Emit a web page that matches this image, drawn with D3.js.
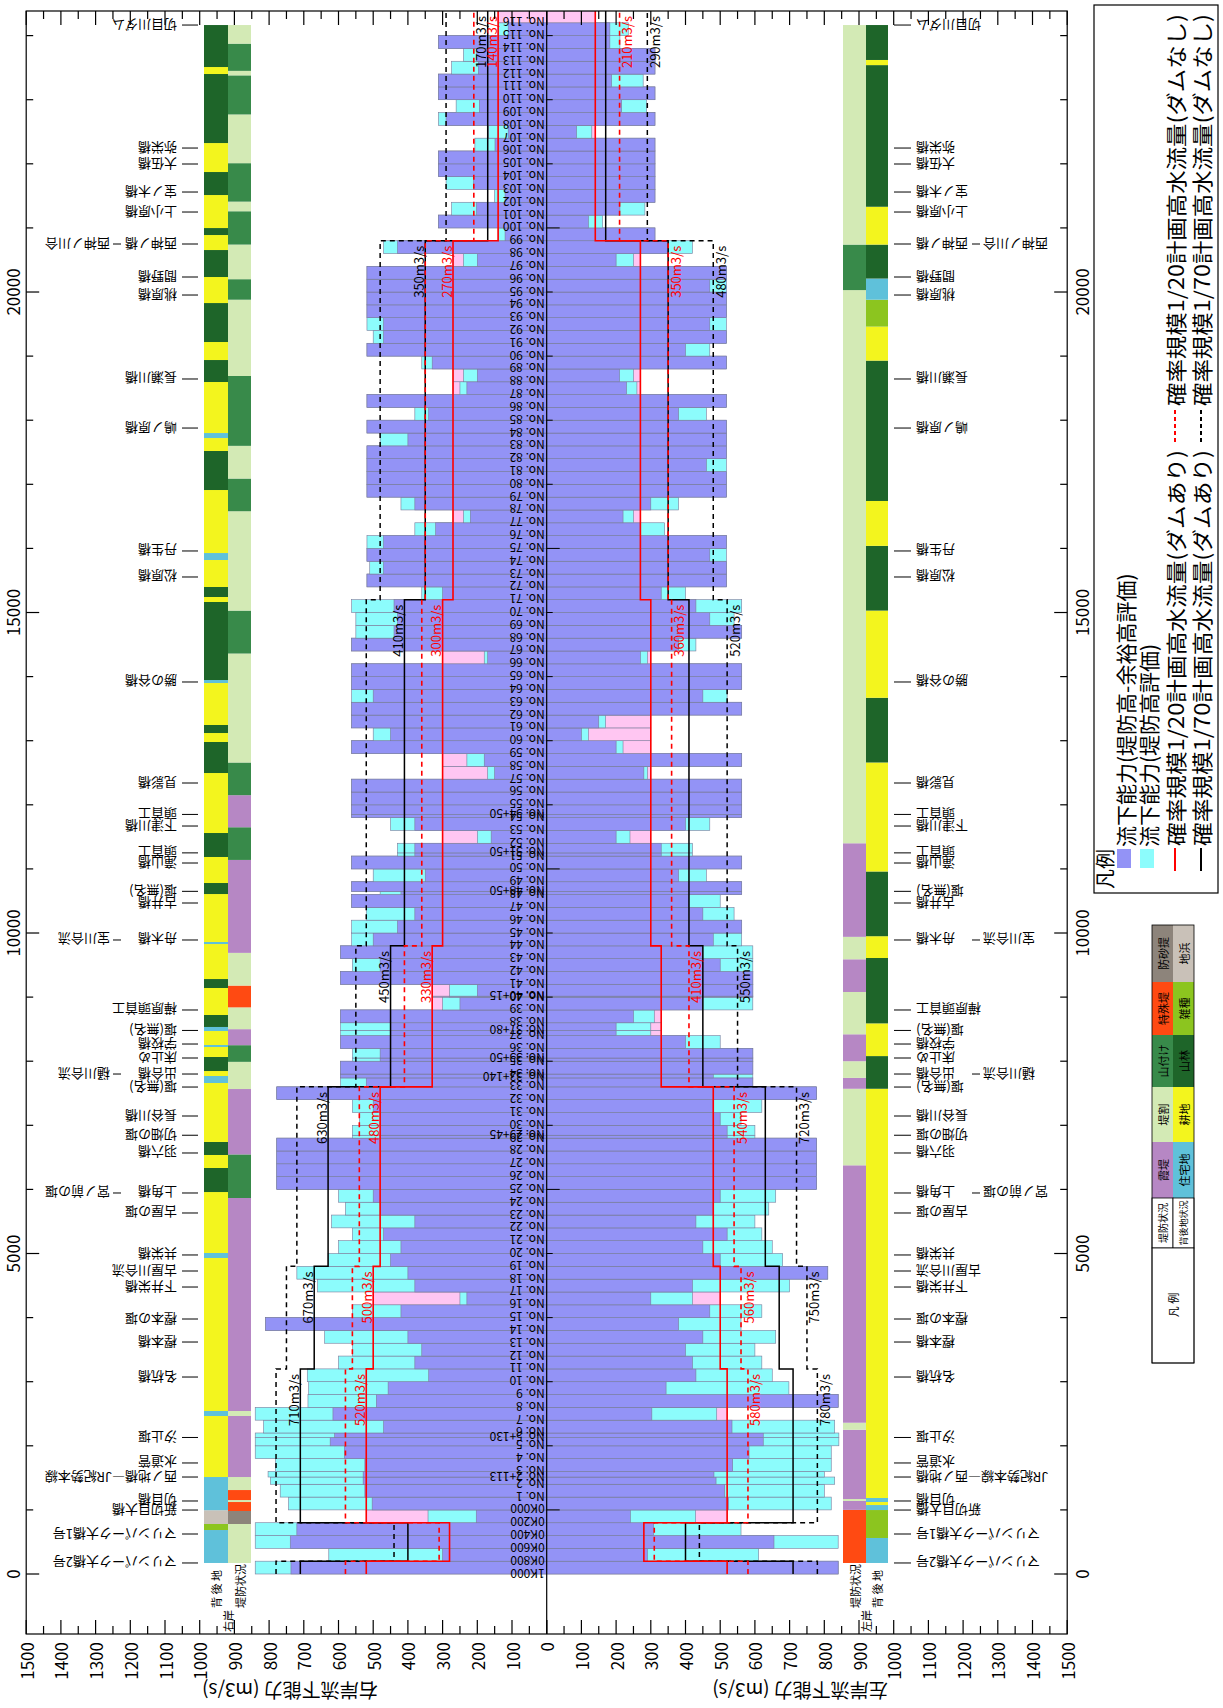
<!DOCTYPE html>
<html lang="ja"><head><meta charset="utf-8">
<script src="https://cdn.jsdelivr.net/npm/d3@7/dist/d3.min.js"></script>
<style>
html,body{margin:0;padding:0;background:#fff;}
svg text{font-family:"Noto Sans CJK JP","Noto Sans",sans-serif;fill:#000;}
</style></head><body>
<svg id="chart" width="1223" height="1708"></svg>
<script>
// ---------- cross sections (distance from the downstream end, m) ----------
const sectionLabels = ["1K000","0K800","0K600","0K400","0K200","0K000","No. 1","No. 2","No. 2+113","No. 3","No. 4","No. 5","No. 5+130","No. 6","No. 7","No. 8","No. 9",
 "No. 10","No. 11","No. 12","No. 13","No. 14","No. 15","No. 16","No. 17","No. 18","No. 19","No. 20","No. 21","No. 22","No. 23","No. 24","No. 25","No. 26","No. 27","No. 28","No. 29","No. 29+45",
 "No. 30","No. 31","No. 32","No. 33","No. 33+140","No. 34","No. 35","No. 35+50","No. 36","No. 37","No. 37+80","No. 38","No. 39","No. 40","No. 40+15","No. 41","No. 42","No. 43","No. 44",
 "No. 45","No. 46","No. 47","No. 48","No. 48+50","No. 49","No. 50","No. 51","No. 51+50","No. 52","No. 53","No. 54","No. 54+50","No. 55","No. 56","No. 57","No. 58","No. 59","No. 60",
 "No. 61","No. 62","No. 63","No. 64","No. 65","No. 66","No. 67","No. 68","No. 69","No. 70","No. 71","No. 72","No. 73","No. 74","No. 75","No. 76","No. 77","No. 78","No. 79","No. 80",
 "No. 81","No. 82","No. 83","No. 84","No. 85","No. 86","No. 87","No. 88","No. 89","No. 90","No. 91","No. 92","No. 93","No. 94","No. 95","No. 96","No. 97","No. 98","No. 99","No. 100",
 "No. 101","No. 102","No. 103","No. 104","No. 105","No. 106","No. 107","No. 108","No. 109","No. 110","No. 111","No. 112","No. 113","No. 114","No. 115","No. 116"];
const sectionDist = [0,200,400,600,800,1000,1200,1400,1513,1600,1800,2000,2130,2200,2400,2600,2800,
 3000,3200,3400,3600,3800,4000,4200,4400,4600,4800,5000,5200,5400,5600,5800,6000,6200,6400,6600,6800,6845,
 7000,7200,7400,7600,7740,7800,8000,8050,8200,8400,8480,8600,8800,9000,9015,9200,9400,9600,9800,
 10000,10200,10400,10600,10650,10800,11000,11200,11250,11400,11600,11800,11850,12000,12200,12400,12600,12800,13000,
 13200,13400,13600,13800,14000,14200,14400,14600,14800,15000,15200,15400,15600,15800,16000,16200,16400,16600,16800,17000,
 17200,17400,17600,17800,18000,18200,18400,18600,18800,19000,19200,19400,19600,19800,20000,20200,20400,20600,20800,21000,
 21200,21400,21600,21800,22000,22200,22400,22600,22800,23000,23200,23400,23600,23800,24000,24200];

// ---------- discharge capacity of each reach (m3/s) ----------
// right bank (drawn on the left half)
const rbFreeboard = [737,300,739,720,203,503,524,529,529,524,583,624,611,470,616,491,457,
 340,380,360,400,810,420,230,380,400,
 450,420,470,380,480,500,778,778,778,778,480,480,480,500,778,
 520,594,594,480,480,594,450,450,594,250,200,200,594,480,594,
 500,430,380,562,420,562,350,562,380,380,160,380,562,562,562,562,150,180,562,450,562,562,500,562,562,170,562,440,430,440,
 300,518,470,518,470,320,220,380,518,518,518,518,400,518,340,518,230,200,330,518,470,470,518,518,518,518,200,430,
 120,312,202,120,211,312,312,149,111,290,194,312,312,197,202,312,111,0];
const rbCrestCap = [840,628,840,840,342,744,768,796,803,782,840,840,840,816,840,688,686,
 690,600,560,640,810,560,250,660,720,
 630,600,560,620,580,600,778,778,778,778,560,560,540,560,778,
 594,594,594,560,560,594,594,594,594,300,280,280,594,560,594,
 562,562,520,562,480,562,500,562,430,430,200,450,562,562,562,562,170,230,562,500,562,562,562,562,562,180,562,550,550,562,
 360,518,510,518,518,380,240,420,518,518,518,518,480,518,380,518,250,240,360,518,500,518,518,518,518,518,240,470,
 139,312,274,150,290,312,312,207,168,312,261,312,312,274,240,312,139,0];
// left bank (drawn on the right half)
const lbFreeboard = [840,290,655,308,241,524,513,488,482,536,583,624,624,534,303,840,344,
 430,420,400,450,380,470,300,420,810,
 500,450,520,430,480,500,778,778,778,778,520,520,500,480,778,
 594,480,594,594,594,400,200,200,250,450,594,594,594,500,450,
 480,562,450,410,562,562,380,562,330,330,200,400,562,562,562,562,280,562,200,100,150,562,450,562,562,270,380,562,470,430,
 330,518,518,470,518,270,220,300,518,518,460,518,518,518,380,518,230,210,518,400,518,470,518,518,470,518,200,350,
 312,120,211,312,312,312,312,312,86,312,216,312,187,312,312,182,182,0];
const lbCrestCap = [840,611,840,560,429,820,800,830,800,820,820,842,842,830,490,840,698,
 650,620,600,660,560,620,420,700,810,
 680,650,620,600,640,660,778,778,778,778,600,600,560,620,778,
 594,594,594,594,594,500,300,300,310,594,594,594,594,594,594,
 562,562,540,500,562,562,460,562,420,420,240,470,562,562,562,562,290,562,220,120,170,562,520,562,562,290,430,562,540,562,
 400,518,518,518,518,340,250,380,518,518,518,518,518,518,460,518,260,250,518,470,518,518,518,518,518,518,250,420,
 312,161,283,312,312,312,312,312,130,312,288,312,278,312,312,211,235,0];

// ---------- design flood discharge (m3/s), stepwise along the river ----------
const stepStart = [0,200,800,3200,4800,7600,9800,15200,20800];
const q20WithDam = [520,280,520,500,480,330,300,270,140];
const q70WithDam = [710,400,710,670,630,450,410,350,170];
const q20NoDam   = [580,310,580,560,540,410,360,350,210];
const q70NoDam   = [780,440,780,750,720,550,520,480,290];

// ---------- bank condition strips: [from, to, code] ----------
// levee: K=霞堤 W=堤割 Y=山付け T=特殊堤 S=防砂提 ; land: J=住宅地 C=耕地 F=山林 Z=雑種 H=地浜
const rbLand = [[172,686,"J"],[686,780,"Z"],[780,995,"H"],[995,1513,"J"],[1513,2465,"C"],[2465,2543,"J"],[2543,4930,"C"],[4930,5008,"J"],
 [5008,5959,"C"],[5959,6334,"F"],[6334,6537,"C"],[6537,6740,"F"],[6740,7660,"C"],[7660,7769,"J"],[7769,7847,"C"],[7847,8066,"F"],
 [8066,8222,"C"],[8222,8253,"J"],[8253,8471,"C"],[8471,8534,"J"],[8534,8721,"F"],[8721,9142,"C"],[9142,9282,"F"],[9282,9828,"C"],
 [9828,9860,"J"],[9860,10608,"C"],[10608,10780,"F"],[10780,11186,"C"],[11186,11560,"F"],[11560,12496,"C"],[12496,12980,"F"],
 [12980,13120,"C"],[13120,13245,"F"],[13245,13900,"C"],[13900,13947,"J"],[13947,15164,"F"],[15164,15242,"C"],[15242,15398,"F"],
 [15398,15819,"C"],[15819,15928,"J"],[15928,16911,"C"],[16911,17520,"F"],[17520,17722,"C"],[17722,17800,"J"],[17800,18596,"C"],
 [18596,18939,"F"],[18939,19220,"C"],[19220,19828,"F"],[19828,20234,"C"],[20234,20655,"F"],[20655,20889,"C"],[20889,20998,"F"],
 [20998,21513,"C"],[21513,21872,"F"],[21872,22324,"C"],[22324,23401,"F"],[23401,23510,"C"],[23510,24165,"F"]];
const rbLevee = [[172,780,"W"],[780,983,"S"],[983,1123,"T"],[1123,1154,"W"],[1154,1310,"T"],[1310,1513,"W"],[1513,2465,"K"],[2465,2543,"W"],
 [2543,5866,"K"],[5866,6546,"Y"],[6546,7566,"K"],[7566,7990,"W"],[7990,8250,"Y"],[8250,8500,"K"],[8500,8840,"W"],[8840,9180,"T"],
 [9180,9690,"W"],[9690,11140,"K"],[11140,11650,"Y"],[11650,12150,"K"],[12150,12660,"Y"],[12660,14360,"W"],[14360,15030,"Y"],
 [15030,16580,"W"],[16580,17090,"Y"],[17090,17600,"W"],[17600,18690,"Y"],[18690,19880,"W"],[19880,20200,"Y"],[20200,20740,"W"],
 [20740,21260,"Y"],[21260,21410,"W"],[21410,22010,"Y"],[22010,22770,"W"],[22770,23380,"Y"],[23380,23450,"W"],[23450,23875,"Y"],[23875,24165,"W"]];
const lbLevee = [[172,1000,"T"],[1000,1140,"K"],[1140,1170,"W"],[1170,2250,"K"],[2250,2360,"W"],[2360,6376,"K"],[6376,7570,"W"],
 [7570,7740,"K"],[7740,8000,"W"],[8000,8420,"K"],[8420,9080,"W"],[9080,9590,"K"],[9590,9940,"W"],[9940,11400,"K"],[11400,20030,"W"],
 [20030,20740,"Y"],[20740,24165,"W"]];
const lbLand = [[172,562,"J"],[562,998,"Z"],[998,1076,"J"],[1076,1123,"C"],[1123,1186,"J"],[1186,7570,"C"],[7570,8080,"F"],
 [8080,8590,"C"],[8590,9610,"F"],[9610,9950,"C"],[9950,10960,"F"],[10960,12660,"C"],[12660,13670,"F"],
 [13670,15030,"C"],[15030,16040,"F"],[16040,16740,"C"],[16740,18930,"F"],[18930,19460,"C"],[19460,19880,"Z"],[19880,20210,"J"],
 [20210,20740,"F"],[20740,21330,"C"],[21330,23540,"F"],[23540,23620,"C"],[23620,24165,"F"]];

const leveeTypes = {K:["霞堤","#b687c4"],W:["堤割","#d3eab5"],Y:["山付け","#388a4a"],T:["特殊堤","#ff4a12"],S:["防砂提","#8d847b"]};
const landTypes  = {J:["住宅地","#5fc1da"],C:["耕地","#f3f51e"],F:["山林","#1e6529"],Z:["雑種","#8cc51f"],H:["地浜","#c9c1b8"]};

// ---------- structures along the river ----------
const structNames = ["マリンパーク大橋2号","マリンパーク大橋1号","新切目大橋","切目橋","西ノ地橋—JR紀勢本線","水道管","汐止堰","名杭橋","樫本橋","樫本の堰",
 "下井栄橋","古屋川合流","共栄橋","古屋の堰","上角橋","羽六橋","切畑の堰","長谷川橋","堰(無名)","出合橋","床止め","学校橋","堰(無名)","樺原頭首工",
 "舟木橋","古井橋","堰(無名)","滝山橋","頭首工","下津川橋","頭首工","見影橋","勝の谷橋","松原橋","丹生橋","嶋ノ原橋","長瀬川橋","桃原橋","間野橋",
 "西神ノ橋","上小原橋","宝ノ木橋","大伍橋","弥栄橋","切目川ダム"];
const structNamesLB = structNames.map(s => s === "西ノ地橋—JR紀勢本線" ? "JR紀勢本線—西ノ地橋" : s);
const structDist = [172,624,998,1139,1513,1732,2130,3073,3619,3978,4477,4727,4977,5632,5944,6568,6845,7145,7597,7800,8050,8268,8480,8799,
 9891,10468,10650,11092,11250,11669,11850,12340,13916,15554,15960,17878,18643,19953,20234,20749,21248,21560,21997,22246,24165];
const noteNames = ["宮ノ前の堰","樋川合流","宝川合流","西神ノ川合"];
const noteDist = [5944,7800,9891,20749];

// ---------- axis ticks ----------
const qTicks = d3.range(0, 1501, 50);
const qLabels = d3.range(0, 1501, 100);
const dTicks = d3.range(0, 24001, 1000);
const dLabels = [0,5000,10000,15000,20000];

// ================= drawing =================
const svg = d3.select("#chart");
const yD = d3.scaleLinear().domain([-936, 24384]).range([1634, 11]);
const xRB = d3.scaleLinear().domain([0, 1500]).range([546.7, 26.2]);   // 右岸 half
const xLB = d3.scaleLinear().domain([0, 1500]).range([546.7, 1067.2]); // 左岸 half
const dTop = yD.domain()[1], dBot = yD.domain()[0];
const X0 = xRB(1500), X1 = xLB(1500), Y0 = yD(dTop), Y1 = yD(dBot);

const COL = {blue:"#9393f6", cyan:"#8cfcfc", pink:"#ffc6f2"};

svg.append("defs").append("clipPath").attr("id","plotClip").append("rect")
  .attr("x", X0).attr("y", Y0).attr("width", X1 - X0).attr("height", Y1 - Y0);
const plot = svg.append("g").attr("clip-path","url(#plotClip)");

// design discharge (1/20, with dam) in force at a distance
function designAt(d){ let i = 0; while (i+1 < stepStart.length && stepStart[i+1] <= d) i++; return q20WithDam[i]; }

// capacity bars; the shortfall up to the design discharge is shaded pink
const bands = sectionDist.map((d,i)=>({i, d0:d, d1: i+1 < sectionDist.length ? sectionDist[i+1] : dTop}));
function drawBars(scale, blue, cyan){
  const rows = [];
  bands.forEach(b=>{
    const q = designAt(b.d0);
    [{v: cyan[b.i] < q ? q : 0, c:COL.pink},{v:cyan[b.i],c:COL.cyan},{v:blue[b.i],c:COL.blue}]
      .filter(p=>p.v>0).sort((a,b)=>b.v-a.v)
      .forEach(p=>rows.push({b, v:p.v, c:p.c}));
  });
  plot.append("g").selectAll("rect").data(rows).join("rect")
    .attr("x", r=>Math.min(scale(0), scale(r.v)))
    .attr("width", r=>Math.abs(scale(r.v)-scale(0)))
    .attr("y", r=>yD(r.b.d1)).attr("height", r=>yD(r.b.d0)-yD(r.b.d1))
    .attr("fill", r=>r.c).attr("stroke","#7b7b9b").attr("stroke-width",0.6);
}
drawBars(xRB, rbFreeboard, rbCrestCap);
drawBars(xLB, lbFreeboard, lbCrestCap);

// bank-condition strips
function drawStrip(data, table, xa, xb){
  plot.append("g").selectAll("rect").data(data).join("rect")
    .attr("x", xa).attr("width", xb - xa)
    .attr("y", s=>yD(s[1])).attr("height", s=>yD(s[0])-yD(s[1]))
    .attr("fill", s=>table[s[2]][1]);
}
drawStrip(rbLand, landTypes, 204, 228);
drawStrip(rbLevee, leveeTypes, 228, 251);
drawStrip(lbLevee, leveeTypes, 843, 866);
drawStrip(lbLand, landTypes, 866, 888);

// design discharge step lines
function stepPts(vals){ const p = stepStart.map((d,i)=>({d, q:vals[i]})); p.push({d:dTop, q:vals[vals.length-1]}); return p; }
const series = [
  {vals:q70NoDam, color:"#000", dash:"5,4", w:1.5},
  {vals:q70WithDam, color:"#000", dash:null, w:1.5},
  {vals:q20NoDam, color:"#f00", dash:"5,4", w:1.6},
  {vals:q20WithDam, color:"#f00", dash:null, w:1.6}
];
[xRB, xLB].forEach(sc=>{
  const line = d3.line().x(p=>sc(p.q)).y(p=>yD(p.d)).curve(d3.curveStepBefore);
  series.forEach(s=>{
    plot.append("path").attr("d", line(stepPts(s.vals))).attr("fill","none")
      .attr("stroke", s.color).attr("stroke-width", s.w).attr("stroke-dasharray", s.dash);
  });
});

// discharge value labels at the upstream end of each reach
function qLabel(x, top, txt, color){
  plot.append("text").attr("transform", `translate(${x},${yD(top)+5}) rotate(-90)`)
    .attr("text-anchor","end").attr("font-size",13).style("fill",color).text(txt + "m3/s");
}
stepStart.forEach((d,i)=>{
  if (i < 2) return;
  const top = i+1 < stepStart.length ? stepStart[i+1] : dTop;
  qLabel(xRB(q70WithDam[i]) - 1.5, top, q70WithDam[i], "#000");
  qLabel(xRB(q20WithDam[i]) - 1.5, top, q20WithDam[i], "#f00");
  qLabel(xLB(q20NoDam[i]) + 12.5, top, q20NoDam[i], "#f00");
  qLabel(xLB(q70NoDam[i]) + 12.5, top, q70NoDam[i], "#000");
});

// centre line with section labels
plot.append("line").attr("x1", xRB(0)).attr("x2", xRB(0)).attr("y1", Y0).attr("y2", Y1).attr("stroke","#000").attr("stroke-width",1.2);
plot.append("g").selectAll("line").data(d3.range(1000, 24001, 1000)).join("line")
  .attr("x1", xRB(0)).attr("x2", d=> xRB(0) + ((d-1000) % 5000 === 0 ? 13 : 6))
  .attr("y1", d=>yD(d)).attr("y2", d=>yD(d)).attr("stroke","#000").attr("stroke-width",1);
plot.append("g").selectAll("text").data(sectionLabels.map((t,i)=>({t, d:sectionDist[i]}))).join("text")
  .attr("transform", s=>`translate(${xRB(0)-2},${yD(s.d)}) rotate(180)`)
  .attr("dominant-baseline","central").attr("font-size",12).text(s=>s.t);

// structure names (upside-down text, as printed)
const lblG = svg.append("g");
structDist.forEach((d,i)=>{
  const y = yD(d);
  lblG.append("line").attr("x1",182).attr("x2",198).attr("y1",y).attr("y2",y).attr("stroke","#000");
  lblG.append("text").attr("transform",`translate(177,${y}) rotate(180)`).attr("dominant-baseline","central")
    .attr("font-size",13).text(structNames[i]);
  lblG.append("line").attr("x1",894).attr("x2",911).attr("y1",y).attr("y2",y).attr("stroke","#000");
  lblG.append("text").attr("transform",`translate(916,${y}) rotate(180)`).attr("dominant-baseline","central")
    .attr("text-anchor","end").attr("font-size",13).text(structNamesLB[i]);
});
noteDist.forEach((d,i)=>{
  const y = yD(d);
  lblG.append("line").attr("x1",113).attr("x2",121).attr("y1",y).attr("y2",y).attr("stroke","#000");
  lblG.append("text").attr("transform",`translate(110,${y}) rotate(180)`).attr("dominant-baseline","central")
    .attr("font-size",13).text(noteNames[i]);
  lblG.append("line").attr("x1",972).attr("x2",980).attr("y1",y).attr("y2",y).attr("stroke","#000");
  lblG.append("text").attr("transform",`translate(983,${y}) rotate(180)`).attr("dominant-baseline","central")
    .attr("text-anchor","end").attr("font-size",13).text(noteNames[i]);
});

// strip captions below the strips
function vcap(x, y, t, fs){
  svg.append("text").attr("transform",`translate(${x},${y}) rotate(-90)`).attr("dominant-baseline","central")
    .attr("font-size",fs).text(t);
}
vcap(216, 1608, "背 後 地", 11); vcap(240, 1608, "堤防状況", 11); vcap(228, 1632, "右岸", 11);
vcap(855, 1608, "堤防状況", 11); vcap(877, 1608, "背 後 地", 11); vcap(866, 1632, "左岸", 11);

// ---------- frame and axes ----------
const ax = svg.append("g").attr("stroke","#000").attr("stroke-width",1.2);
ax.append("rect").attr("x",X0).attr("y",Y0).attr("width",X1-X0).attr("height",Y1-Y0).attr("fill","none");
[xRB, xLB].forEach(sc=>{
  qTicks.forEach(q=>{
    const len = q % 100 === 0 ? 14 : 8;
    ax.append("line").attr("x1",sc(q)).attr("x2",sc(q)).attr("y1",Y1).attr("y2",Y1-len);
    ax.append("line").attr("x1",sc(q)).attr("x2",sc(q)).attr("y1",Y0).attr("y2",Y0+len);
  });
});
dTicks.forEach(d=>{
  const len = d % 5000 === 0 ? 13 : 7;
  ax.append("line").attr("x1",X0).attr("x2",X0+len).attr("y1",yD(d)).attr("y2",yD(d));
  ax.append("line").attr("x1",X1).attr("x2",X1-len).attr("y1",yD(d)).attr("y2",yD(d));
});
const tl = svg.append("g").attr("font-size",17);
[xRB, xLB].forEach((sc,k)=>{
  qLabels.forEach(q=>{
    if (k===1 && q===0) return;
    tl.append("text").attr("transform",`translate(${sc(q)},${Y1+8}) rotate(-90)`)
      .attr("text-anchor","end").attr("dominant-baseline","central").text(q);
  });
});
dLabels.forEach(d=>{
  tl.append("text").attr("transform",`translate(${X0-14},${yD(d)}) rotate(-90)`).attr("text-anchor","middle")
    .attr("dominant-baseline","central").text(d);
  tl.append("text").attr("transform",`translate(${X1+14},${yD(d)}) rotate(-90)`).attr("text-anchor","middle")
    .attr("dominant-baseline","central").text(d);
});
svg.append("text").attr("transform",`translate(${xRB(740)},1691) rotate(180)`).attr("text-anchor","middle")
  .attr("dominant-baseline","central").attr("font-size",19).text("右岸流下能力 (m3/s)");
svg.append("text").attr("transform",`translate(${xLB(730)},1691) rotate(180)`).attr("text-anchor","middle")
  .attr("dominant-baseline","central").attr("font-size",19).text("左岸流下能力 (m3/s)");

// ---------- legend (reads bottom to top) ----------
const lg = svg.append("g");
lg.append("rect").attr("x",1094).attr("y",5).attr("width",124).attr("height",888).attr("fill","#fff").attr("stroke","#000").attr("stroke-width",1.2);
function vtext(x, y, t, fs, len){
  const t0 = lg.append("text").attr("transform",`translate(${x},${y}) rotate(-90)`).attr("dominant-baseline","central")
    .attr("font-size",fs).text(t);
  if (len) t0.attr("textLength", len).attr("lengthAdjust","spacingAndGlyphs");
  return t0;
}
vtext(1104, 889, "凡例", 20);
lg.append("rect").attr("x",1117).attr("y",849).attr("width",14).attr("height",19).attr("fill",COL.blue);
vtext(1125, 847, "流下能力(堤防高-余裕高評価)", 21);
lg.append("rect").attr("x",1140).attr("y",849).attr("width",14).attr("height",19).attr("fill",COL.cyan);
vtext(1148, 847, "流下能力(堤防高評価)", 21);
[[1175,"#f00","1/20"],[1201,"#000","1/70"]].forEach(([x,col,p])=>{
  lg.append("line").attr("x1",x).attr("x2",x).attr("y1",848).attr("y2",871).attr("stroke",col).attr("stroke-width",2);
  vtext(x, 846, `確率規模${p}計画高水流量(ダムあり)`, 21, 396);
  lg.append("line").attr("x1",x).attr("x2",x).attr("y1",410).attr("y2",444).attr("stroke",col).attr("stroke-width",2).attr("stroke-dasharray","4,3");
  vtext(x, 406, `確率規模${p}計画高水流量(ダムなし)`, 21, 392);
});

// bank-condition colour key
const kt = svg.append("g");
const keyRows = [["S","H"],["T","Z"],["Y","F"],["W","C"],["K","J"]];
const rowY = [925,982,1035,1087,1142,1198];
function ktext(x, y, t, fs){
  kt.append("text").attr("transform",`translate(${x},${y}) rotate(-90)`).attr("text-anchor","middle")
    .attr("dominant-baseline","central").attr("font-size",fs).text(t);
}
keyRows.forEach((r,i)=>{
  const y0 = rowY[i], y1 = rowY[i+1];
  [[r[0],leveeTypes,1152,1173],[r[1],landTypes,1173,1194]].forEach(([k,tab,xa,xb])=>{
    kt.append("rect").attr("x",xa).attr("y",y0).attr("width",xb-xa).attr("height",y1-y0).attr("fill",tab[k][1]);
    ktext((xa+xb)/2, (y0+y1)/2, tab[k][0], 11);
  });
});
kt.append("rect").attr("x",1152).attr("y",1198).attr("width",21).attr("height",50).attr("fill","#fff").attr("stroke","#000").attr("stroke-width",0.8);
kt.append("rect").attr("x",1173).attr("y",1198).attr("width",21).attr("height",50).attr("fill","#fff").attr("stroke","#000").attr("stroke-width",0.8);
ktext(1162.5, 1223, "堤防状況", 10);
ktext(1183.5, 1223, "背後地状況", 9);
kt.append("rect").attr("x",1152).attr("y",1248).attr("width",42).attr("height",115).attr("fill","#fff").attr("stroke","#000").attr("stroke-width",0.8);
ktext(1173, 1305, "凡 例", 11);
kt.append("rect").attr("x",1152).attr("y",925).attr("width",42).attr("height",438).attr("fill","none").attr("stroke","#000").attr("stroke-width",0.8);
</script></body></html>
